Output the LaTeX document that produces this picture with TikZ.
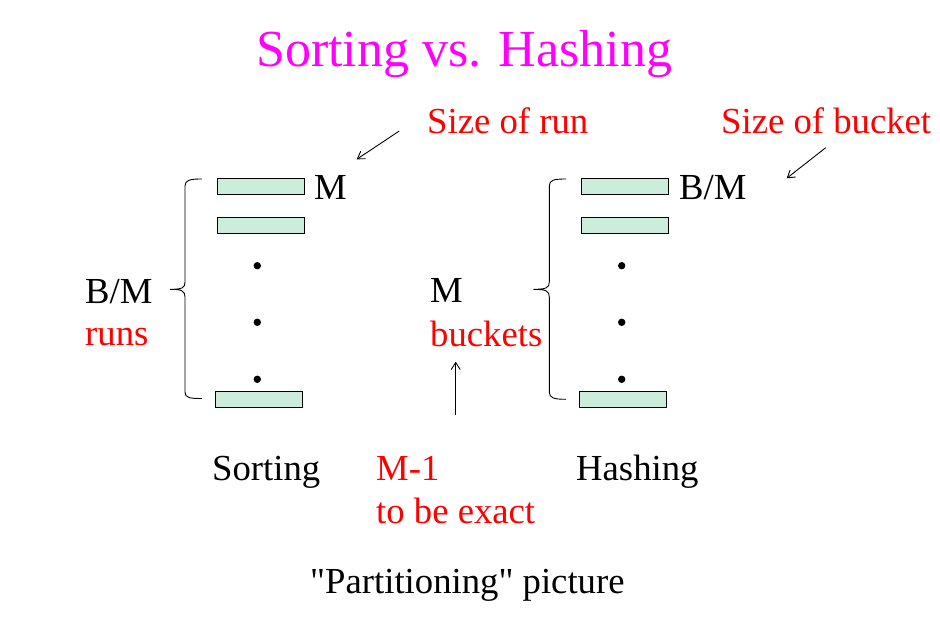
\documentclass[tikz,border=0pt]{standalone}
\usepackage{fontspec}
\setmainfont{Liberation Serif}
\usetikzlibrary{arrows.meta}
\definecolor{titlepink}{RGB}{255,0,255}
\definecolor{notered}{RGB}{255,0,0}
\definecolor{barfill}{RGB}{204,236,220}

\begin{document}
\begin{tikzpicture}[x=1pt,y=-1pt,
    bar/.style={draw,fill=barfill,line width=1pt,minimum width=87pt,minimum height=15.5pt,inner sep=0pt},
    lbl/.style={anchor=base west,inner sep=0pt,font=\fontsize{36.7}{40}\selectfont},
    note/.style={lbl,text=notered},
    >={Straight Barb[length=7pt,width=9pt]}]
    \useasboundingbox (0,0) rectangle (940,623);

    % Title
    \node[anchor=base west,inner sep=0pt,text=titlepink,font=\fontsize{52}{60}\selectfont] (title) at (256,67) {Sorting vs. Hashing};

    % Sorting runs
    \node[bar] (s1) at (260.8,186.5) {};
    \node[bar] (s2) at (260.8,225.7) {};
    \node[bar] (s3) at (259.2,399.5) {};
    \foreach \y in {265.7,322.3,379.3}
        \fill (257.3,\y) circle (3.7pt);

    % Hashing buckets
    \node[bar] (h1) at (624.7,186.5) {};
    \node[bar] (h2) at (624.7,225.7) {};
    \node[bar] (h3) at (623,399.5) {};
    \foreach \y in {265.7,322.3,379.3}
        \fill (621.7,\y) circle (3.7pt);

    % Braces
    \draw[line width=0.9pt] (202,179) .. controls (190,179) and (185,180) .. (185,186) -- (185,282)
        .. controls (185,288) and (182,289.3) .. (170,289.3)
        .. controls (182,289.3) and (185,291) .. (185,297) -- (185,392)
        .. controls (185,398) and (190,398.5) .. (202,398.5);
    \draw[line width=0.9pt] (566,179) .. controls (554,179) and (549.3,180) .. (549.3,186) -- (549.3,282)
        .. controls (549.3,288) and (546,289.3) .. (533.3,289.3)
        .. controls (546,289.3) and (549.3,291) .. (549.3,297) -- (549.3,392)
        .. controls (549.3,398) and (554,399.3) .. (566,399.3);

    % Labels
    \node[lbl] (runsize) at (314,200) {M};
    \node[lbl] (bucketsize) at (679,200) {B/M};
    \node[lbl] (nruns) at (85,303) {B/M};
    \node[note] (runs) at (85,345) {runs};
    \node[lbl] (nbuckets) at (430,302) {M};
    \node[note] (buckets) at (430,346) {buckets};
    \node[lbl] (sorting) at (212,480) {Sorting};
    \node[lbl] (hashing) at (576,480) {Hashing};
    \node[note] (exact) at (376,480) {M-1};
    \node[note] (exact2) at (376,523) {to be exact};
    \node[lbl] (caption) at (310,593) {\textquotedbl Partitioning\textquotedbl{} picture};

    % Notes
    \node[note] (runnote) at (427,134) {Size of run};
    \node[note] (bucketnote) at (721,134) {Size of bucket};

    % Arrows
    \coordinate (a1) at (399.3,131);
    \coordinate (a1e) at (356.7,159.3);
    \coordinate (a2) at (825.7,147.7);
    \coordinate (a2e) at (786.7,178.3);
    \coordinate (a3) at (455.7,415);
    \coordinate (a3e) at (455.7,361.7);
    \draw[->,line width=0.9pt] (a1) -- (a1e);
    \draw[->,line width=0.9pt] (a2) -- (a2e);
    \draw[->,line width=0.9pt] (a3) -- (a3e);
\end{tikzpicture}
\end{document}
